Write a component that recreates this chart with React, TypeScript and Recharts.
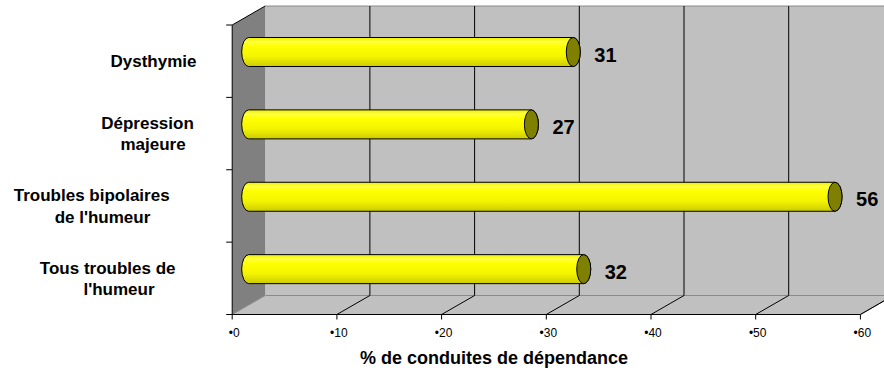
import React from 'react';
import {
  BarChart,
  Bar,
  XAxis,
  YAxis,
  CartesianGrid,
  LabelList,
} from 'recharts';

// categories top to bottom, "\n" marks the wrap in the axis label
const CATEGORIES = [
  'Dysthymie',
  'Dépression\nmajeure',
  'Troubles bipolaires\nde l\'humeur',
  'Tous troubles de\nl\'humeur',
];
const VALUES = [31, 27, 56, 32];
const X_TICKS = [0, 10, 20, 30, 40, 50, 60];
const X_TITLE = '% de conduites de dépendance';

const data = CATEGORIES.map((name, i) => ({ name, value: VALUES[i] }));

const WIDTH = 884;
const HEIGHT = 374;
const FONT = '"Liberation Sans", Arial, Helvetica, sans-serif';

// plot area = middle depth plane of the 3D box
const PLOT_LEFT = 248.7;
const PLOT_RIGHT = 876.9;
const PLOT_TOP = 15.5;
const PLOT_BOTTOM = 305;
// half depth offset of the box
const DX = 16.5;
const DY = 9.5;

const FRONT_LEFT = PLOT_LEFT - DX;
const FRONT_RIGHT = PLOT_RIGHT - DX;
const FRONT_TOP = PLOT_TOP + DY;
const FRONT_BOTTOM = PLOT_BOTTOM + DY;
const BACK_LEFT = PLOT_LEFT + DX;
const BACK_TOP = PLOT_TOP - DY;
const BACK_BOTTOM = PLOT_BOTTOM - DY;
const BAND = (PLOT_BOTTOM - PLOT_TOP) / CATEGORIES.length;

// horizontal centre of each label line
const LABEL_CENTERS = [[153.5], [147.5, 153], [91.7, 102.5], [107.7, 119]];
const LINE_HEIGHT = 21.5;

const WALL = '#c0c0c0';
const SIDE = '#808080';
const EDGE = '#8a8a8a';

function Box() {
  const floorRightY = FRONT_BOTTOM - ((WIDTH - FRONT_RIGHT) / (2 * DX)) * (2 * DY);
  return (
    <svg width={WIDTH} height={HEIGHT} style={{ position: 'absolute', left: 0, top: 0 }}>
      <rect x={0} y={0} width={WIDTH} height={HEIGHT} fill="#ffffff" />
      {/* back wall */}
      <rect x={BACK_LEFT} y={BACK_TOP} width={WIDTH - BACK_LEFT} height={BACK_BOTTOM - BACK_TOP} fill={WALL} />
      {/* floor */}
      <polygon
        points={`${FRONT_LEFT},${FRONT_BOTTOM} ${BACK_LEFT},${BACK_BOTTOM} ${WIDTH},${BACK_BOTTOM} ${WIDTH},${floorRightY} ${FRONT_RIGHT},${FRONT_BOTTOM}`}
        fill={WALL}
      />
      {/* side wall */}
      <polygon
        points={`${FRONT_LEFT},${FRONT_TOP} ${BACK_LEFT},${BACK_TOP} ${BACK_LEFT},${BACK_BOTTOM} ${FRONT_LEFT},${FRONT_BOTTOM}`}
        fill={SIDE}
      />
      <line x1={BACK_LEFT} y1={BACK_TOP} x2={WIDTH} y2={BACK_TOP} stroke={EDGE} />
      <line x1={BACK_LEFT} y1={BACK_BOTTOM} x2={WIDTH} y2={BACK_BOTTOM} stroke={EDGE} />
      <line x1={FRONT_LEFT} y1={FRONT_BOTTOM} x2={BACK_LEFT} y2={BACK_BOTTOM} stroke={EDGE} />
      <line x1={FRONT_RIGHT} y1={FRONT_BOTTOM} x2={WIDTH} y2={floorRightY} stroke="#555" />
      <line x1={FRONT_LEFT} y1={FRONT_TOP} x2={BACK_LEFT} y2={BACK_TOP} stroke="#000" />
      <line x1={FRONT_LEFT} y1={FRONT_TOP} x2={FRONT_LEFT} y2={FRONT_BOTTOM} stroke="#000" />
      <line x1={FRONT_LEFT} y1={FRONT_BOTTOM} x2={FRONT_RIGHT} y2={FRONT_BOTTOM} stroke="#000" />
      <text
        x={494}
        y={364}
        textAnchor="middle"
        fontFamily={FONT}
        fontWeight="bold"
        fontSize={18}
        fill="#000"
      >
        {X_TITLE}
      </text>
    </svg>
  );
}

// horizontal cylinder: rounded left end, olive cap on the right
const Cylinder = (props: any) => {
  const { x, y, width, height } = props;
  if (width == null || height == null) return null;
  const rx = 7;
  const ry = height / 2;
  const right = x + width;
  const d = `M${x},${y} L${right},${y} A${rx},${ry} 0 0 1 ${right},${y + height} L${x},${y + height} A${rx},${ry} 0 0 1 ${x},${y} Z`;
  return (
    <g>
      <path d={d} fill="url(#cylGrad)" stroke="#000" strokeWidth={1} />
      <ellipse cx={right} cy={y + ry} rx={rx} ry={ry} fill="#808000" stroke="#000" strokeWidth={1} />
    </g>
  );
};

const ValueLabel = (props: any) => {
  const { x, y, width, height, value } = props;
  return (
    <text
      x={x + width + 21}
      y={y + height / 2 + 9.7}
      fontFamily={FONT}
      fontWeight="bold"
      fontSize={20}
      fill="#000"
    >
      {value}
    </text>
  );
};

const FloorTick = (props: any) => {
  const { x, payload } = props;
  const xf = x - DX;
  const xb = x + DX;
  return (
    <g>
      {payload.value !== 0 && (
        <line x1={xf} y1={FRONT_BOTTOM} x2={xb} y2={BACK_BOTTOM} stroke="#000" />
      )}
      <line x1={xf} y1={FRONT_BOTTOM} x2={xf} y2={FRONT_BOTTOM + 5} stroke="#000" />
      <text x={xf + 2} y={337} textAnchor="middle" fontFamily={FONT} fontSize={12} fill="#000">
        {'\u2022' + payload.value}
      </text>
    </g>
  );
};

const CategoryTick = (props: any) => {
  const { y, payload } = props;
  const idx = CATEGORIES.indexOf(payload.value);
  const lines = String(payload.value).split('\n');
  const cy = y + DY;
  const first = cy - ((lines.length - 1) * LINE_HEIGHT) / 2 + 6;
  return (
    <g>
      <line x1={FRONT_LEFT - 6} y1={cy - BAND / 2} x2={FRONT_LEFT} y2={cy - BAND / 2} stroke="#000" />
      {idx === CATEGORIES.length - 1 && (
        <line x1={FRONT_LEFT - 6} y1={cy + BAND / 2} x2={FRONT_LEFT} y2={cy + BAND / 2} stroke="#000" />
      )}
      {lines.map((line, i) => (
        <text
          key={i}
          x={LABEL_CENTERS[idx]?.[i] ?? 150}
          y={first + i * LINE_HEIGHT}
          textAnchor="middle"
          fontFamily={FONT}
          fontWeight="bold"
          fontSize={17}
          fill="#000"
        >
          {line}
        </text>
      ))}
    </g>
  );
};

// grid lines sit on the back wall
const BackGridLine = (props: any) => {
  const { x1 } = props;
  if (x1 <= PLOT_LEFT + 1) return <g />;
  return <line x1={x1 + DX} y1={BACK_TOP} x2={x1 + DX} y2={BACK_BOTTOM} stroke="#000" strokeWidth={1} />;
};

export default function App() {
  return (
    <div style={{ position: 'relative', width: WIDTH, height: HEIGHT }}>
      <style>{'body { margin: 0; }'}</style>
      <Box />
      <div style={{ position: 'absolute', left: 0, top: 0 }}>
        <BarChart
          width={WIDTH}
          height={HEIGHT}
          data={data}
          layout="vertical"
          margin={{ top: PLOT_TOP, right: WIDTH - PLOT_RIGHT, bottom: 0, left: 0 }}
          barCategoryGap={0}
        >
          <defs>
            <linearGradient id="cylGrad" x1="0" y1="0" x2="0" y2="1">
              <stop offset="0%" stopColor="#eeee00" />
              <stop offset="15%" stopColor="#ffff40" />
              <stop offset="30%" stopColor="#ffff00" />
              <stop offset="65%" stopColor="#f4f400" />
              <stop offset="100%" stopColor="#cccc00" />
            </linearGradient>
          </defs>
          <CartesianGrid horizontal={false} vertical={BackGridLine} fill="none" stroke="#000" />
          <XAxis
            type="number"
            domain={[0, 60]}
            ticks={X_TICKS}
            interval={0}
            height={HEIGHT - PLOT_BOTTOM}
            axisLine={false}
            tickLine={false}
            tick={FloorTick}
          />
          <YAxis
            type="category"
            dataKey="name"
            width={PLOT_LEFT}
            axisLine={false}
            tickLine={false}
            tick={CategoryTick}
            interval={0}
          />
          <Bar dataKey="value" barSize={29} shape={Cylinder} isAnimationActive={false}>
            <LabelList dataKey="value" content={ValueLabel} />
          </Bar>
        </BarChart>
      </div>
    </div>
  );
}
